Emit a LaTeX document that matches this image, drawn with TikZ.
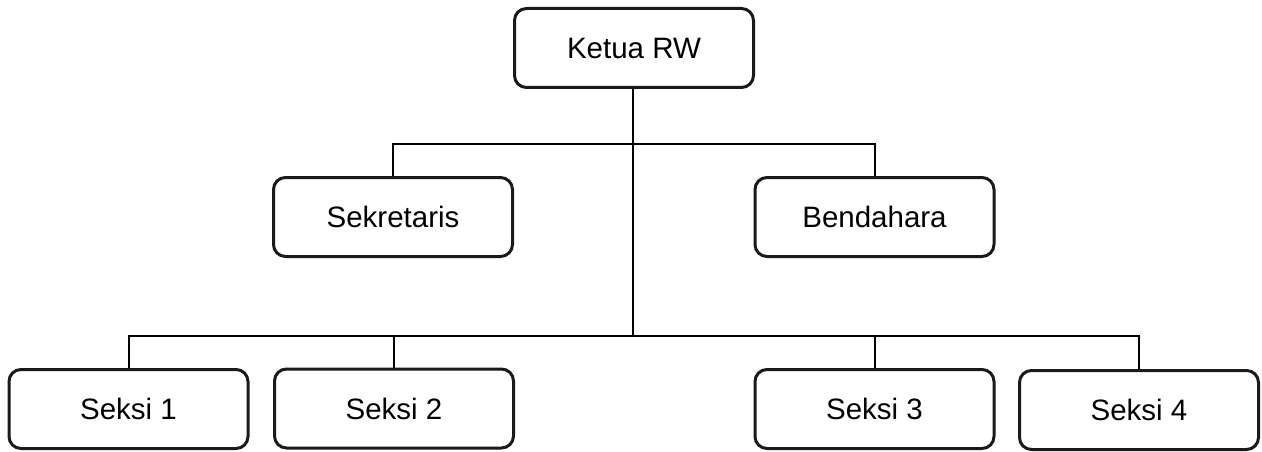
\documentclass[tikz,border=0pt]{standalone}
\usepackage{fontspec}
\setmainfont{Liberation Sans}
\definecolor{boxline}{HTML}{1A1A1A}
\begin{document}
\begin{tikzpicture}[x=1pt,y=-1pt,
  orgbox/.style={draw=boxline, line width=3pt, rounded corners=12pt, fill=white,
    minimum width=239pt, minimum height=79pt, inner sep=0pt,
    font=\fontsize{29.5}{31}\selectfont, text=black},
  link/.style={draw=black, line width=2pt}]
\useasboundingbox (0,0) rectangle (1262,452);
\node[orgbox] (ketua) at (634,48) {Ketua RW};
\node[orgbox] (sek) at (393,217) {Sekretaris};
\node[orgbox] (bend) at (874.5,217) {Bendahara};
\node[orgbox] (s1) at (128.5,409) {Seksi 1};
\node[orgbox] (s2) at (394,408.5) {Seksi 2};
\node[orgbox] (s3) at (874.5,409) {Seksi 3};
\node[orgbox] (s4) at (1139,410) {Seksi 4};
\coordinate (bar1) at (633,144);
\coordinate (bar2) at (633,336);
\draw[link] (ketua.south -| bar2) -- (bar2);
\draw[link] (sek.north) |- (bar1) -| (bend.north);
\draw[link] (s1.north) |- (bar2) -| (s4.north);
\draw[link] (s2.north) -- (s2.north |- bar2);
\draw[link] (s3.north) -- (s3.north |- bar2);
\end{tikzpicture}
\end{document}
